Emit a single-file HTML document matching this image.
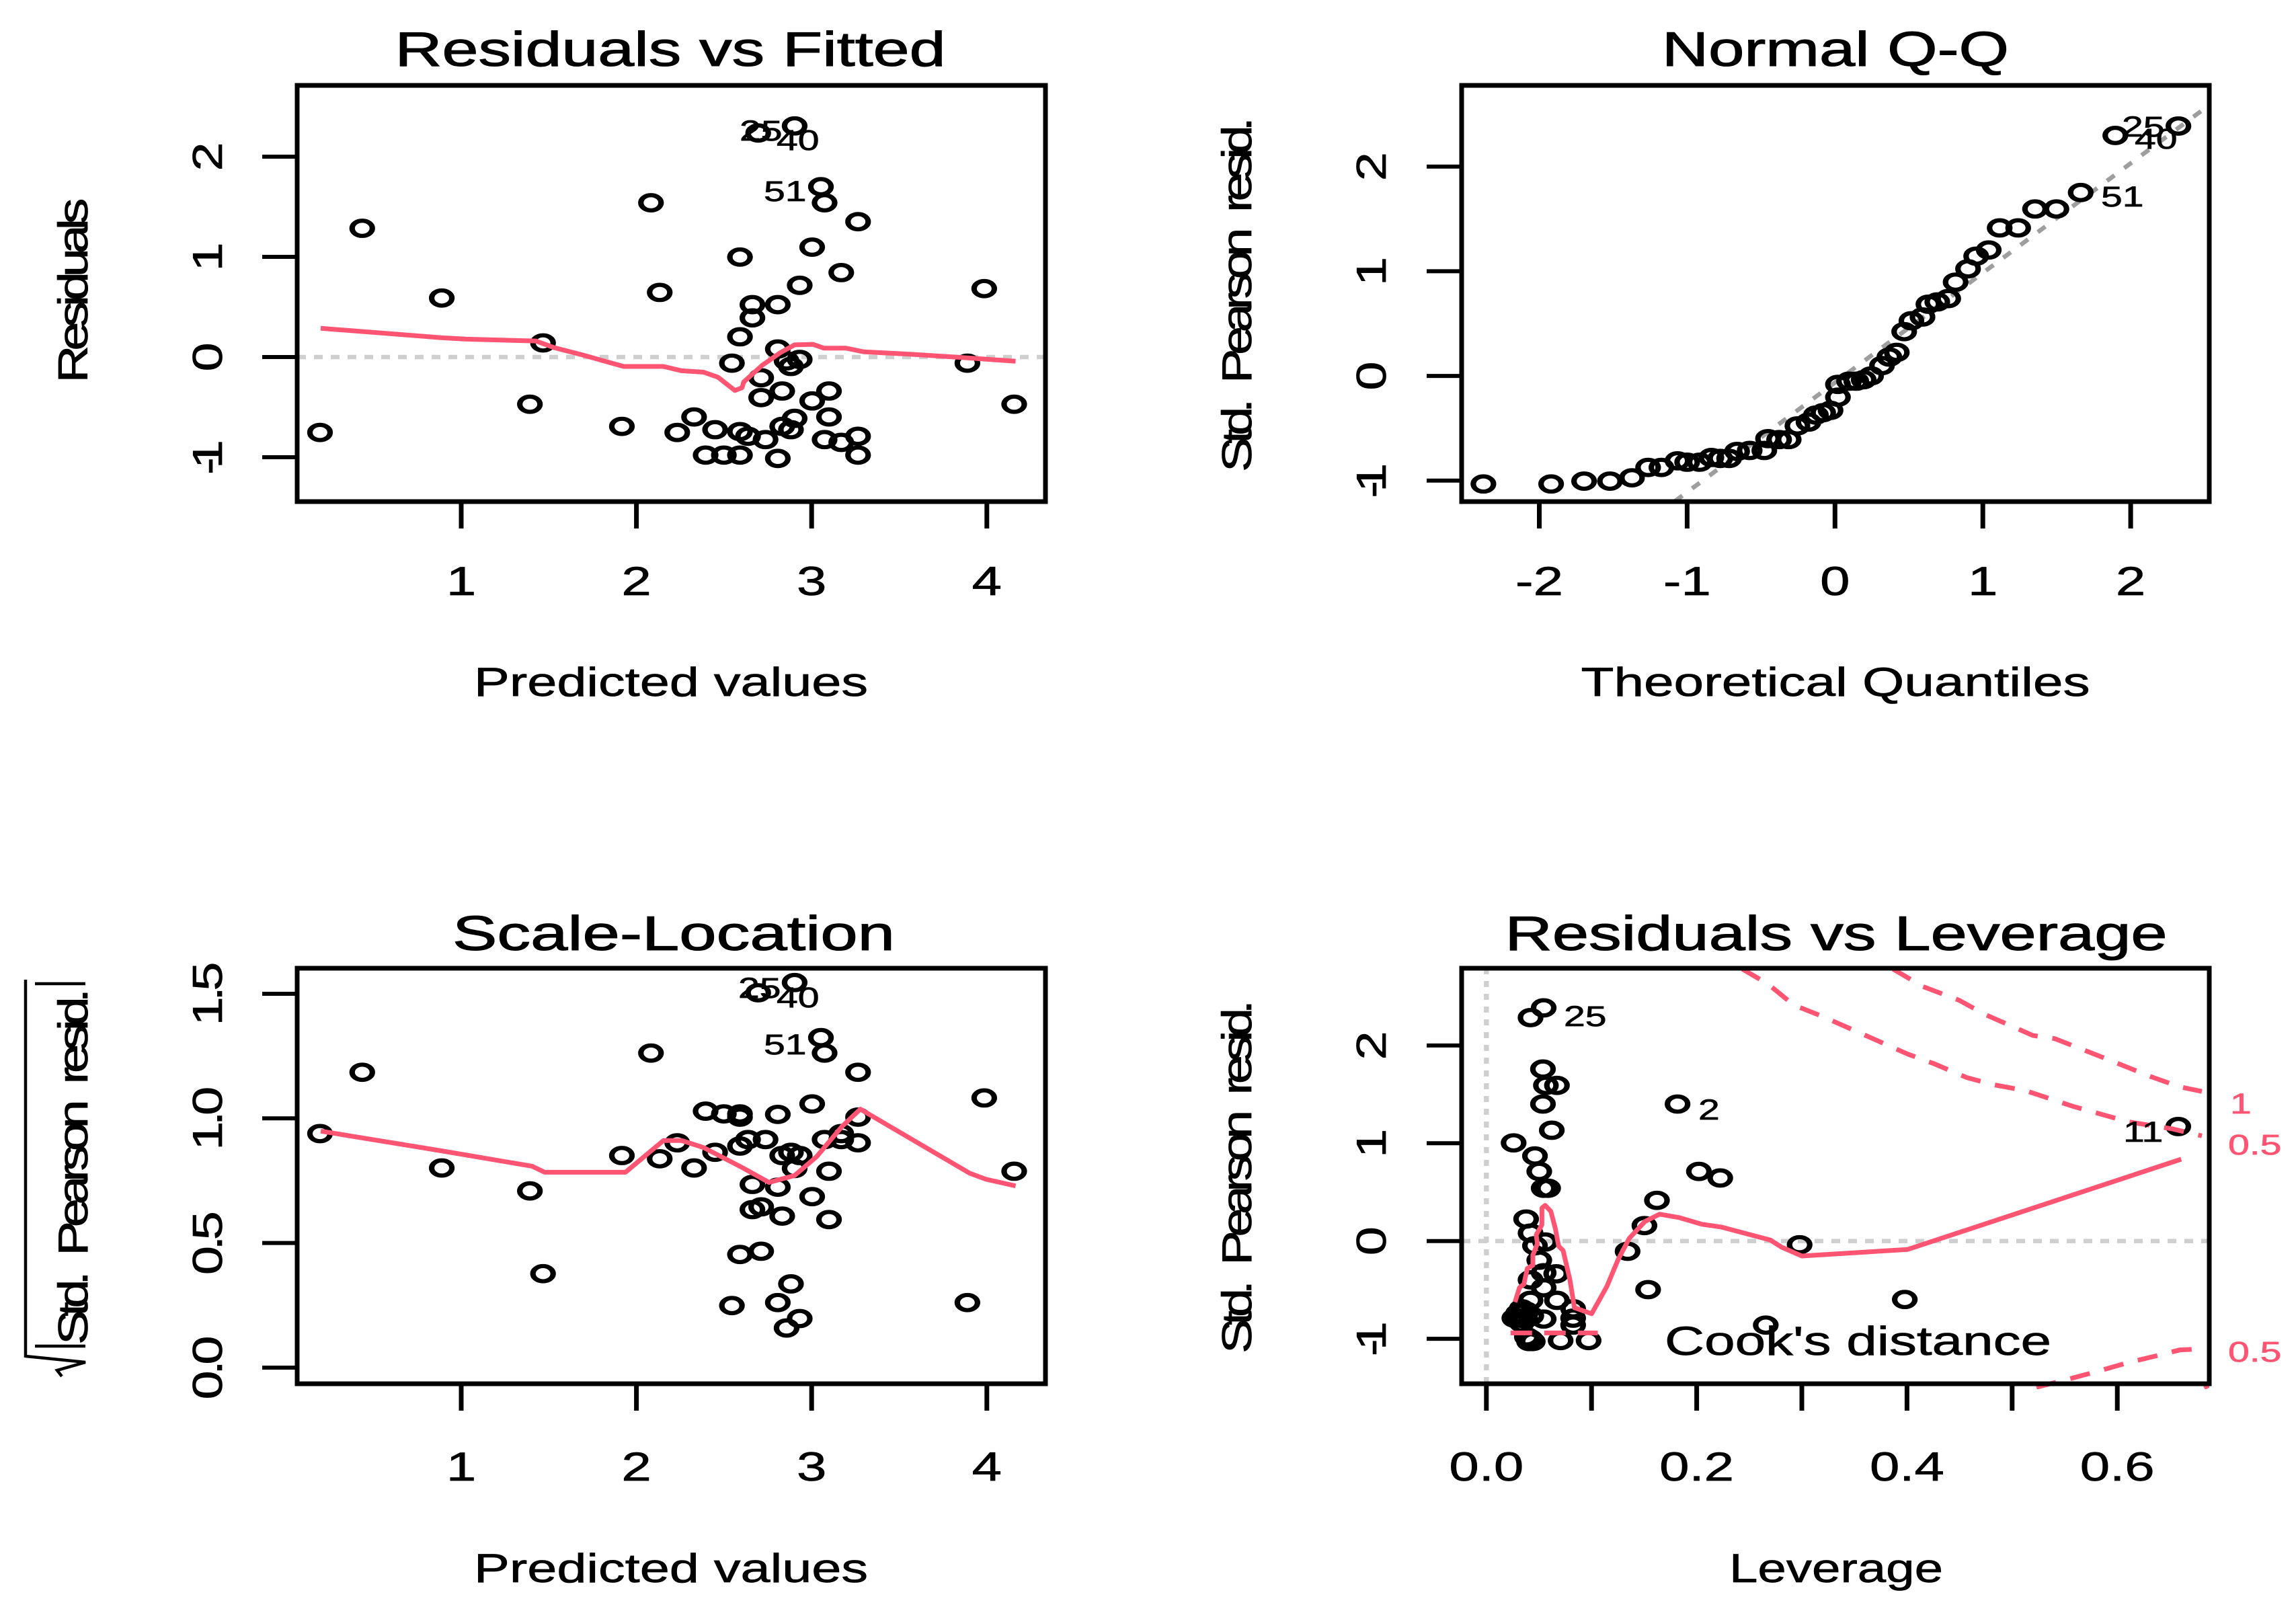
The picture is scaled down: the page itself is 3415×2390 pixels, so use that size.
<!DOCTYPE html>
<html><head><meta charset="utf-8"><title>Regression diagnostics</title>
<style>html,body{margin:0;padding:0;background:#fff}svg{display:block}text{font-family:"Liberation Sans",sans-serif;fill:#000;stroke:#000;stroke-width:.7px}</style>
</head><body>
<svg id="fig" xmlns="http://www.w3.org/2000/svg" width="3415" height="2390" viewBox="0 0 3415 2390"><rect width="3415" height="2390" fill="#fff"/></svg>
<script>
const fittedValues=[.194,.435,.889,1.467,1.392,1.917,2.083,2.133,2.233,2.329,2.449,2.395,2.499,2.591,2.591,2.591,2.545,2.591,2.637,2.662,2.662,2.695,2.712,2.712,2.737,2.807,2.807,2.832,2.807,2.832,2.882,2.857,2.882,2.932,2.903,2.903,2.932,3.003,3.003,3.053,3.074,3.074,3.099,3.099,3.169,3.169,3.265,3.265,3.265,3.889,3.985,4.156];
const residuals=[-.753,1.285,.589,.141,-.471,-.692,1.540,.645,-.753,-.598,-.725,-.979,-.979,-.979,.998,.202,-.061,-.744,-.791,.523,.391,2.236,-.207,-.405,-.824,.523,.080,-.339,-1.012,-.692,-.725,-.038,-.094,-.024,2.307,-.612,.716,1.097,-.438,1.700,1.540,-.824,-.339,-.598,.843,-.852,1.351,-.791,-.979,-.061,.683,-.471];
const residSmoothX=[.198,.885,1.030,1.426,1.530,1.696,1.927,2.154,2.258,2.383,2.466,2.562,2.603,2.612,2.716,2.820,2.903,3.007,3.069,3.194,3.298,3.568,3.860,4.164];
const residSmoothY=[.287,.193,.179,.160,.094,.019,-.094,-.094,-.137,-.151,-.202,-.334,-.306,-.250,-.085,.042,.122,.127,.089,.089,.052,.028,-.005,-.042];
const qqTheoretical=[-2.378,-1.920,-1.697,-1.522,-1.373,-1.264,-1.174,-1.065,-1.0,-.915,-.836,-.776,-.716,-.662,-.577,-.478,-.453,-.378,-.313,-.254,-.179,-.129,-.080,-.030,.020,.020,.095,.144,.194,.244,.318,.368,.418,.468,.517,.592,.632,.692,.766,.816,.900,.955,1.040,1.114,1.239,1.353,1.498,1.662,1.896,2.323];
const qqSample=[-1.032,-1.032,-1.005,-1.005,-.973,-.874,-.874,-.811,-.824,-.824,-.779,-.788,-.788,-.721,-.712,-.712,-.599,-.608,-.608,-.477,-.441,-.374,-.351,-.329,-.203,-.081,-.050,-.050,-.036,0,.099,.180,.225,.423,.527,.563,.685,.707,.739,.896,1.023,1.144,1.203,1.414,1.414,1.595,1.595,1.752,2.297,2.387];
const qqLineIntercept=-.063;
const qqLineSlope=1.047;
const sqrtResiduals=[.939,1.185,.801,.377,.709,.851,1.262,.838,.902,.801,.864,1.029,1.018,1.018,1.005,.454,.249,.889,.915,.634,.735,1.504,.645,.467,.915,1.016,.724,.608,.261,.851,.864,.159,.336,.197,1.545,.799,.851,1.058,.686,1.324,1.262,.915,.788,.594,.939,.915,1.185,1.005,.902,.261,1.082,.788];
const scaleSmoothX=[.198,.885,1.405,1.476,1.938,2.154,2.258,2.383,2.603,2.757,2.903,3.028,3.174,3.278,3.902,3.994,4.164];
const scaleSmoothY=[.949,.870,.808,.784,.784,.911,.911,.883,.803,.743,.771,.846,.968,1.037,.780,.756,.729];
const leverage=[.0545,.0420,.0538,.0566,.0671,.0538,.0622,.0259,.0462,.0503,.0545,.0587,.0378,.0420,.0559,.0462,.0503,.0545,.0664,.0420,.0545,.0420,.0671,.0336,.0378,.0315,.0371,.0427,.0545,.0266,.0336,.0825,.0825,.0825,.0420,.0441,.0385,.0706,.0972,.1818,.2021,.2224,.1622,.1503,.1343,.1538,.2979,.3979,.2657,.6580,.0406,.0301];
const stdResiduals=[2.385,2.285,1.759,1.592,1.592,1.401,1.133,1.004,.870,.712,.540,.540,.225,.081,-.010,-.048,-.196,-.325,-.335,-.397,-.478,-.607,-.607,-.693,-.717,-.789,-.798,-.765,-.798,-.789,-.837,-.693,-.789,-.860,-1.004,-1.028,-.980,-1.018,-1.018,1.401,.712,.645,.416,.158,-.105,-.497,-.038,-.598,-.860,1.171,-1.028,-.741];
const levSmoothX=[.0272,.0315,.0357,.0368,.0389,.0442,.0442,.0485,.0474,.0528,.0528,.0559,.0613,.0655,.0687,.0730,.0794,.0837,.1001,.1146,.1253,.1359,.1508,.1646,.1828,.2052,.2233,.2701,.2808,.3,.4007,.6608];
const levSmoothY=[-.625,-.476,-.442,-.384,-.281,-.247,-.144,-.029,.063,.166,.338,.365,.303,.131,-.052,-.098,-.395,-.682,-.744,-.464,-.189,.028,.200,.274,.241,.171,.143,.010,-.063,-.153,-.086,.837];
const cookUpperHalfX=[.2434,.2678,.2923,.3203,.3657,.4007,.4252,.4566,.4811,.5126,.5580,.6105,.6524,.6804];
const cookUpperHalfY=[2.782,2.629,2.414,2.294,2.079,1.912,1.816,1.673,1.601,1.539,1.377,1.219,1.147,1.076];
const cookUpperOneX=[.3867,.4147,.4497,.4741,.5196,.5406,.5895,.6315,.6594,.6804];
const cookUpperOneY=[2.782,2.605,2.462,2.318,2.103,2.070,1.864,1.683,1.577,1.530];
const cookLowerHalfX=[.5231,.5545,.5825,.6105,.6385,.6594,.6804];
const cookLowerHalfY=[-1.496,-1.410,-1.329,-1.243,-1.171,-1.114,-1.104];
const cookLowerOneX=[.6825,.69];
const cookLowerOneY=[-1.5,-1.46];
const cookLegendX=[.023,.106];
const cookLegendY=[-.94,-.94];
const fittedTicks=[1,2,3,4];
const residualTicks=[-1,0,1,2];
const qqXTicks=[-2,-1,0,1,2];
const qqYTicks=[-1,0,1,2];
const scaleYTicks=[0,.5,1,1.5];
const scaleYLabels=['0.0','0.5','1.0','1.5'];
const leverageTicks=[0,.1,.2,.3,.4,.5,.6];
const leverageLabels=['0.0','','0.2','','0.4','','0.6'];
const stdResidTicks=[-1,0,1,2];

const NS='http://www.w3.org/2000/svg', SX=1.33, RX=1.25, RED='#ff5472', GRID='#cfcfcf';
const fig=document.getElementById('fig');
function mk(tag,attrs,name,parent){
  const el=document.createElementNS(NS,tag);
  for(const k in attrs)el.setAttribute(k,attrs[k]);
  
  
  (parent||fig).appendChild(el);
  return el;
}
function hText(s,x,y,size,name,opt){
  opt=opt||{};
  const a={transform:`translate(${x},${y}) scale(${SX},1)`,'font-size':size};
  if(opt.anchor)a['text-anchor']=opt.anchor;
  if(opt.len){a.textLength=opt.len/SX;a.lengthAdjust='spacingAndGlyphs';}
  let st='';
  if(opt.fill)st+='fill:'+opt.fill+';stroke:'+opt.fill+';';
  if(opt.weight)st+='stroke-width:'+opt.weight+'px;';
  if(st)a.style=st;
  const t=mk('text',a,name,opt.parent);t.textContent=s;return t;
}
function vText(s,x,y,size,name,opt){
  opt=opt||{};
  const a={transform:`translate(${x},${y}) rotate(-90) scale(${RX},1)`,'font-size':size,'text-anchor':opt.anchor||'middle'};
  if(opt.len){a.textLength=opt.len/RX;a.lengthAdjust='spacing';}
  if(opt.wordGap)a['word-spacing']=opt.wordGap;
  const t=mk('text',a,name,opt.parent);t.textContent=s;return t;
}
function tickLen(s){return s.length===3?95:(s.length===2?52:0);}
function panel(p){
  const g=mk('g',{},p.name+'-panel');
  const cid=p.name+'-clip';
  const cp=mk('clipPath',{id:cid},p.name+'-clip-region',g);
  mk('rect',{x:p.l,y:p.t,width:p.r-p.l,height:p.b-p.t+(p.padBottom||0)},p.name+'-clip-rect',cp);
  p.plot=mk('g',{'clip-path':`url(#${cid})`},p.name+'-plot-area',g);
  p.g=g;
  return p;
}
function hline(p,v,dash,name){mk('line',{x1:p.l,x2:p.r,y1:p.y(v),y2:p.y(v),stroke:GRID,'stroke-width':6.5,'stroke-dasharray':dash},name,p.plot);}
function vline(p,v,dash,name){mk('line',{x1:p.x(v),x2:p.x(v),y1:p.t,y2:p.b,stroke:GRID,'stroke-width':7.5,'stroke-dasharray':dash},name,p.plot);}
function points(p,xs,ys){
  xs.forEach((v,i)=>{
    mk('circle',{r:11.3,fill:'none',stroke:'#000','stroke-width':6.2,transform:`translate(${p.x(v)},${p.y(ys[i])}) scale(${SX},1)`},p.name+'-point',p.plot);
  });
}
function curve(p,xs,ys,name,o){
  o=o||{};
  const a={points:xs.map((v,i)=>p.x(v)+','+p.y(ys[i])).join(' '),fill:'none',stroke:o.stroke||RED,'stroke-width':o.w||7,'stroke-linejoin':'round'};
  if(o.dash)a['stroke-dasharray']=o.dash;
  mk('polyline',a,name,p.plot);
}
function frame(p){
  mk('rect',{x:p.l,y:p.t,width:p.r-p.l,height:p.b-p.t,fill:'none',stroke:'#000','stroke-width':7},p.name+'-frame',p.g);
}
function axes(p,xt,xl,yt,yl,xBase,yBase){
  xt.forEach((v,i)=>{
    mk('line',{x1:p.x(v),x2:p.x(v),y1:p.b,y2:p.b+40,stroke:'#000','stroke-width':7},p.name+'-x-tick',p.g);
    if(xl[i]!=='')hText(xl[i],p.x(v),xBase,60,p.name+'-x-tick-label',{anchor:'middle',parent:p.g});
  });
  yt.forEach((v,i)=>{
    mk('line',{x1:p.l-52,x2:p.l,y1:p.y(v),y2:p.y(v),stroke:'#000','stroke-width':6},p.name+'-y-tick',p.g);
    vText(yl[i],yBase,p.y(v),62,p.name+'-y-tick-label',{len:tickLen(yl[i]),parent:p.g});
  });
}

/* Residuals vs Fitted */
const p1=panel({name:'residuals-fitted',l:442,r:1555,t:127,b:746,x:v=>686+(v-1)*260.6,y:v=>531-149*v});
hline(p1,0,'13 12','zero-reference-line');
points(p1,fittedValues,residuals);
curve(p1,residSmoothX,residSmoothY,'smoother-line');
frame(p1);
axes(p1,fittedTicks,fittedTicks.map(String),residualTicks,residualTicks.map(String),885,330);
hText('Residuals vs Fitted',997,98,72,'plot-title',{anchor:'middle',len:819,weight:1.1});
hText('Predicted values',998,1035,60,'x-axis-title',{anchor:'middle',len:586});
vText('Residuals',130,432,62,'y-axis-title',{len:275});
hText('25',1100,209,43,'point-label-25');
hText('40',1155,223,43,'point-label-40');
hText('51',1136,299,43,'point-label-51');

/* Normal Q-Q */
const p2=panel({name:'normal-qq',l:2174,r:3286,t:127,b:746,x:v=>2729.3+219.9*v,y:v=>559.1-155.7*v});
const qqEnds=[-1.2,2.7];
curve(p2,qqEnds,qqEnds.map(v=>qqLineIntercept+qqLineSlope*v),'qq-reference-line',{stroke:'#9e9e9e',dash:'14 18',w:6.5});
points(p2,qqTheoretical,qqSample);
frame(p2);
axes(p2,qqXTicks,qqXTicks.map(String),qqYTicks,qqYTicks.map(String),885,2061);
hText('Normal Q-Q',2730,98,72,'plot-title',{anchor:'middle',len:516,weight:1.1});
hText('Theoretical Quantiles',2730,1035,60,'x-axis-title',{anchor:'middle',len:757});
vText('Std. Pearson resid.',1861,438,62,'y-axis-title',{len:528,wordGap:16});
hText('25',3156,203,43,'point-label-25');
hText('40',3175,221,43,'point-label-40');
hText('51',3125,307,43,'point-label-51');

/* Scale-Location */
const p3=panel({name:'scale-location',l:442,r:1555,t:1440,b:2058,x:v=>686+(v-1)*260.6,y:v=>2034-370.7*v});
points(p3,fittedValues,sqrtResiduals);
curve(p3,scaleSmoothX,scaleSmoothY,'smoother-line');
frame(p3);
axes(p3,fittedTicks,fittedTicks.map(String),scaleYTicks,scaleYLabels,2202,330);
hText('Scale-Location',1002,1413,72,'plot-title',{anchor:'middle',len:658,weight:1.1});
hText('Predicted values',998,2353,60,'x-axis-title',{anchor:'middle',len:586});
vText('Std. Pearson resid.',130,2000,62,'y-axis-title',{anchor:'start',len:530,wordGap:16});
mk('polyline',{points:'38,1457 38,2017 127,2026 85,2038 92,2047',fill:'none',stroke:'#000','stroke-width':4.5},'y-axis-radical-sign');
mk('line',{x1:52,x2:127,y1:2002,y2:2002,stroke:'#000','stroke-width':4.5},'y-axis-abs-bar-lower');
mk('line',{x1:52,x2:127,y1:1463,y2:1463,stroke:'#000','stroke-width':4.5},'y-axis-abs-bar-upper');
hText('25',1098,1484,43,'point-label-25');
hText('40',1155,1498,43,'point-label-40');
hText('51',1136,1568,43,'point-label-51');

/* Residuals vs Leverage */
const p4=panel({name:'residuals-leverage',l:2174,r:3286,t:1440,b:2058,padBottom:8,x:v=>2210.8+1564*v,y:v=>1845.7-145.4*v});
hline(p4,0,'13 12','zero-reference-line');
vline(p4,0,'9 10','zero-leverage-line');
points(p4,leverage,stdResiduals);
curve(p4,levSmoothX,levSmoothY,'smoother-line');
const dashC='30 22';
curve(p4,cookUpperHalfX,cookUpperHalfY,'cooks-contour-upper-0-5',{dash:dashC});
curve(p4,cookUpperOneX,cookUpperOneY,'cooks-contour-upper-1',{dash:dashC});
curve(p4,cookLowerHalfX,cookLowerHalfY,'cooks-contour-lower-0-5',{dash:dashC});
curve(p4,cookLowerOneX,cookLowerOneY,'cooks-contour-lower-1',{});
curve(p4,cookLegendX,cookLegendY,'cooks-legend-dash',{dash:'32 18'});
frame(p4);
axes(p4,leverageTicks,leverageLabels,stdResidTicks,stdResidTicks.map(String),2202,2061);
hText('Residuals vs Leverage',2731,1413,72,'plot-title',{anchor:'middle',len:985,weight:1.1});
hText('Leverage',2731,2353,60,'x-axis-title',{anchor:'middle',len:318});
vText('Std. Pearson resid.',1861,1750,62,'y-axis-title',{len:526,wordGap:16});
hText("Cook's distance",2476,2015,60,'cooks-distance-legend',{len:575});
hText('25',2326,1526,43,'point-label-25');
hText('2',2526,1665,43,'point-label-2');
hText('11',3158,1698,43,'point-label-11');
hText('1',3317,1656,43,'cooks-label-1',{fill:RED});
hText('0.5',3314,1717,43,'cooks-label-upper-0-5',{fill:RED});
hText('0.5',3314,2025,43,'cooks-label-lower-0-5',{fill:RED});
</script>
</body></html>
